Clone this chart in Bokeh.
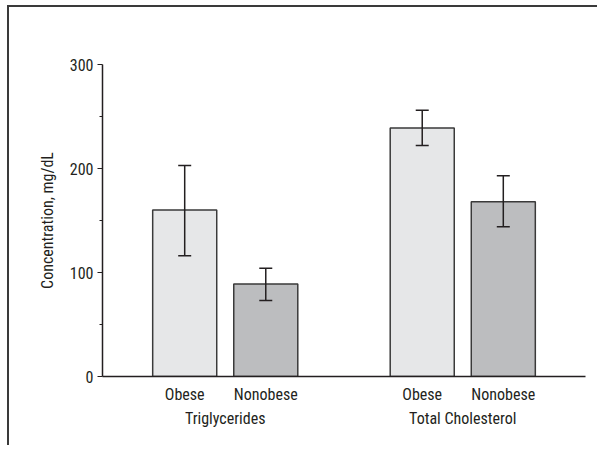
from bokeh.plotting import figure
from bokeh.models import ColumnDataSource, FactorRange, Whisker, TeeHead, FixedTicker
from bokeh.embed import file_html
from bokeh.resources import INLINE

# ---- data ----
groups = ["Triglycerides", "Total Cholesterol"]
subgroups = ["Obese", "Nonobese"]
means = [160, 89, 239, 168]
err_upper = [203, 104, 256, 193]
err_lower = [116, 73, 222, 144]
fill_colors = ["#e6e7e8", "#bcbdbf", "#e6e7e8", "#bcbdbf"]
y_ticks = [0, 100, 200, 300]

factors = [(g, s) for g in groups for s in subgroups]
src = ColumnDataSource(dict(x=factors, top=means, upper=err_upper, lower=err_lower, color=fill_colors))

FONT = "'Liberation Sans Narrow', 'Arial Narrow', 'Roboto Condensed', 'Liberation Sans', sans-serif"

x_range = FactorRange(*factors, factor_padding=0.0, group_padding=0.93,
                      range_padding=0.514, range_padding_units="absolute")

p = figure(width=590, height=440, x_range=x_range, y_range=(0, 300),
           output_backend="svg", toolbar_location=None,
           min_border_left=93, min_border_right=14, min_border_top=57, min_border_bottom=71)

p.styles = {"border-top": "2px solid #3a3a3a", "border-left": "2px solid #3a3a3a",
            "margin-left": "7px", "margin-top": "5px"}

p.vbar(x="x", top="top", width=0.79, source=src, fill_color="color",
       line_color="#3a3a3a", line_width=1.5)

w = Whisker(base="x", upper="upper", lower="lower", source=src, level="overlay",
            line_color="#231f20", line_width=1.5,
            upper_head=TeeHead(size=13, line_color="#231f20", line_width=1.5),
            lower_head=TeeHead(size=13, line_color="#231f20", line_width=1.5))
p.add_layout(w)

p.grid.visible = False
p.outline_line_color = None
p.background_fill_color = "white"
p.border_fill_color = "white"

# y axis
ya = p.yaxis[0]
ya.ticker = FixedTicker(ticks=y_ticks, minor_ticks=[50, 150, 250])
ya.axis_label = "Concentration, mg/dL"
ya.axis_label_text_font = FONT
ya.axis_label_text_font_style = "normal"
ya.axis_label_text_font_size = "16px"
ya.axis_label_text_color = "#231f20"
ya.axis_label_standoff = 10
ya.major_label_text_font = FONT
ya.major_label_text_font_size = "16px"
ya.major_label_text_color = "#231f20"
ya.major_label_standoff = 4
ya.axis_line_color = "#231f20"
ya.axis_line_width = 1.5
ya.major_tick_line_color = "#231f20"
ya.major_tick_line_width = 1.2
ya.major_tick_out = 5
ya.major_tick_in = 0
ya.minor_tick_line_color = "#231f20"
ya.minor_tick_line_width = 1.2
ya.minor_tick_out = 3
ya.minor_tick_in = 0

# x axis
xa = p.xaxis[0]
xa.axis_line_color = "#231f20"
xa.axis_line_width = 1.5
xa.major_tick_line_color = None
xa.minor_tick_line_color = None
xa.major_label_text_font = FONT
xa.major_label_text_font_size = "16px"
xa.major_label_text_color = "#231f20"
xa.major_label_standoff = 2
xa.group_text_font = FONT
xa.group_text_font_size = "16px"
xa.group_text_font_style = "normal"
xa.group_text_color = "#231f20"
xa.separator_line_alpha = 0

open("out.html", "w").write(file_html(p, INLINE))
